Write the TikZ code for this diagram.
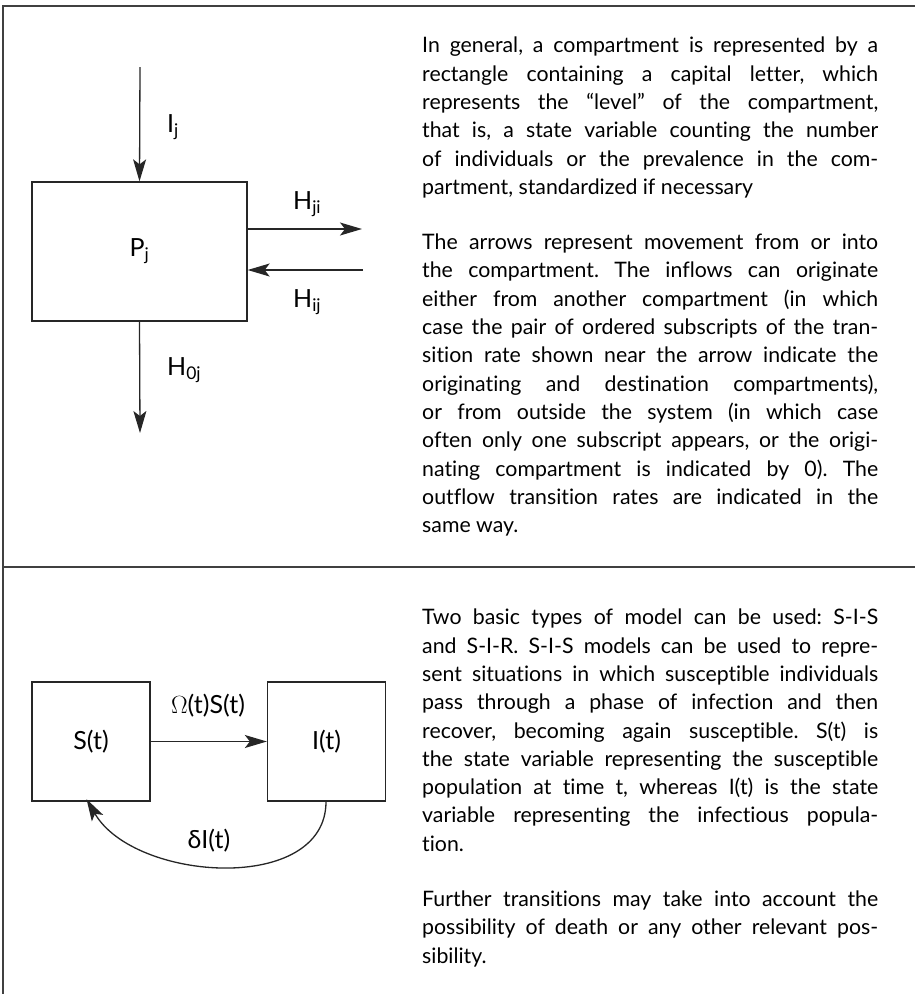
\documentclass[tikz,border=0pt]{standalone}
\usepackage{fontspec}
\setmainfont{Lato}[Ligatures=NoCommon]
\usetikzlibrary{arrows.meta,positioning}
\setlength{\parindent}{0pt}
\frenchspacing

\begin{document}
\begin{tikzpicture}[x=1pt,y=-1pt,
  comp/.style={draw=black!85, line width=1.3pt, inner sep=0pt,
    font=\fontsize{25}{30}\selectfont},
  flow/.style={-{Stealth[length=22pt,width=13pt,inset=5pt]},
    line width=1.3pt, draw=black!85},
  ratelabel/.style={font=\fontsize{25}{30}\selectfont, inner sep=0pt},
  notes/.style={text width=456pt, align=justify, inner sep=0pt,
    anchor=north west, font=\fontsize{21.3}{28.3}\selectfont},
  panel/.style={line width=1.6pt, draw=black!75}
]
\useasboundingbox (0,0) rectangle (915,994);

% Frame
\draw[panel] (3,994) -- (3,6) -- (915,6);
\draw[panel] (3,567) -- (915,567);

% General compartment
\node[comp, minimum width=215pt, minimum height=139pt] (pj) at (139.5,251.5)
  {P\textsubscript{j}};
\coordinate (ijin) at (140,67);
\coordinate (hjiout) at (362,229);
\coordinate (hijin) at (363,270);
\coordinate (h0jout) at (140,433);

\draw[flow] (ijin) -- (pj.north);
\draw[flow] (pj.east |- hjiout) -- (hjiout);
\draw[flow] (hijin) -- (pj.east |- hijin);
\draw[flow] (pj.south) -- (h0jout);

\node[ratelabel, anchor=base west] (ij) at (167,132) {I\textsubscript{j}};
\node[ratelabel, anchor=base west] (hji) at (293,209) {H\textsubscript{ji}};
\node[ratelabel, anchor=base west] (hij) at (293,307) {H\textsubscript{ij}};
\node[ratelabel, anchor=base west] (h0j) at (167,375) {H\textsubscript{0j}};

\node[notes] (topnote) at (422,37) {In general, a compartment is represented by a\linebreak
rectangle containing a capital letter, which\linebreak
represents the “level” of the compartment,\linebreak
that is, a state variable counting the number\linebreak
of individuals or the prevalence in the com-\linebreak
partment, standardized if necessary\par\vspace{27pt}
The arrows represent movement from or into\linebreak
the compartment. The inflows can originate\linebreak
either from another compartment (in which\linebreak
case the pair of ordered subscripts of the tran-\linebreak
sition rate shown near the arrow indicate the\linebreak
originating and destination compartments),\linebreak
or from outside the system (in which case\linebreak
often only one subscript appears, or the origi-\linebreak
nating compartment is indicated by 0). The\linebreak
outflow transition rates are indicated in the\linebreak
same way.};

% S-I-S model
\node[comp, minimum width=118pt, minimum height=119pt] (sb) at (91,741.5) {S(t)};
\node[comp, minimum width=118pt, minimum height=119pt] (ib) at (326.5,741.5) {I(t)};

\draw[flow] (sb) -- (ib);
\node[ratelabel, anchor=base] (inf) at (208,713) {$\Omega$(t)S(t)};

\draw[flow, shorten >=-3pt] ([xshift=-0.5pt]ib.south) to[out=-90,in=-60]
  ([xshift=-3pt]sb.south);
\node[ratelabel, anchor=base] (rec) at (209,848) {δI(t)};

\node[notes] (botnote) at (422,609) {Two basic types of model can be used: S-I-S\linebreak
and S-I-R. S-I-S models can be used to repre-\linebreak
sent situations in which susceptible individuals\linebreak
pass through a phase of infection and then\linebreak
recover, becoming again susceptible. S(t) is\linebreak
the state variable representing the susceptible\linebreak
population at time t, whereas I(t) is the state\linebreak
variable representing the infectious popula-\linebreak
tion.\par\vspace{27pt}
Further transitions may take into account the\linebreak
possibility of death or any other relevant pos-\linebreak
sibility.};

\end{tikzpicture}
\end{document}
